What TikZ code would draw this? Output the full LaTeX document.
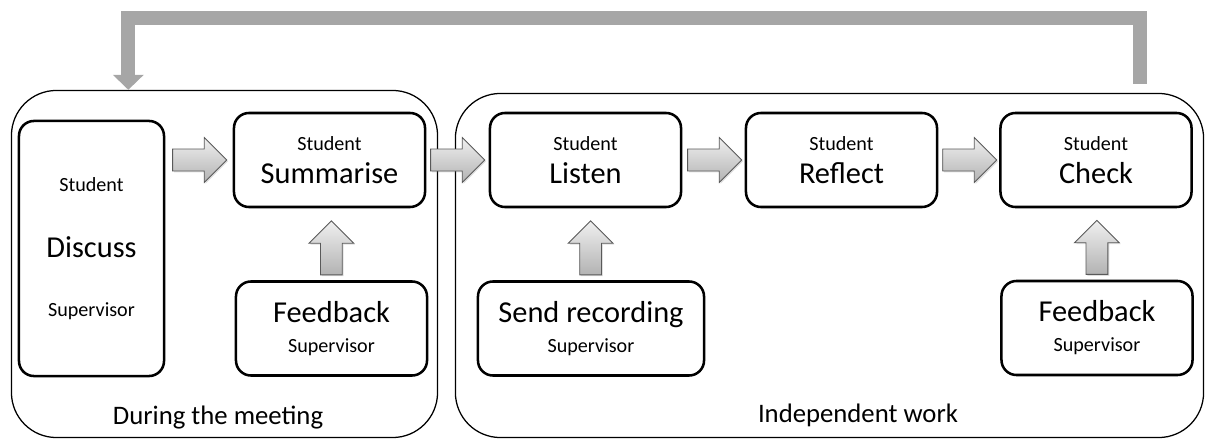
\documentclass[tikz,border=0pt]{standalone}
\usepackage{fontspec}
\setmainfont{Carlito}
\usetikzlibrary{calc,arrows.meta,shapes.arrows,shadows}
\def\who#1{\fontsize{14.3}{17}\selectfont #1}
\def\act#1{\fontsize{21.6}{25}\selectfont #1}
\def\boss{\fontsize{14.3}{17}\selectfont Supervisor}

\begin{document}
\begin{tikzpicture}[x=0.025cm, y=-0.025cm,
	stage/.style={draw, line width=0.9pt, rounded corners=1.125cm, inner sep=0pt},
	task/.style={draw, line width=1.8pt, rounded corners=0.375cm, inner sep=0pt, align=center,
		font=\fontsize{14}{30}\selectfont, minimum width=4.775cm, minimum height=2.35cm},
	blockarrow/.style={single arrow, draw=black!65, line width=0.6pt, inner xsep=0pt, inner ysep=0.2625cm,
		minimum height=1.35cm, single arrow head extend=0.2875cm, anchor=tail,
		top color=black!6, bottom color=black!30,
		drop shadow={shadow xshift=1pt, shadow yshift=-1pt, opacity=0.25}},
	loopback/.style={line width=0.35cm, draw=black!35, -{Triangle[width=0.75cm, length=0.375cm]}}]
	%%%%% START %%%%%
	\useasboundingbox (0,0) rectangle (1206,439);
	
	\node[stage, minimum width=10.65cm, minimum height=8.675cm] (meet) at (224.5, 264) {};
	\node[stage, minimum width=18.7cm, minimum height=8.6cm] (indep) at (829.5, 265.5) {};
	\node[anchor=base, font=\fontsize{19}{22}\selectfont] (meetlabel) at (218, 425) {During the meeting};
	\node[anchor=base, font=\fontsize{19}{22}\selectfont] (indeplabel) at (858, 422) {Independent work};
	
	\node[task, minimum width=3.625cm, minimum height=6.375cm] (discuss) at (91.5, 248.5)
		{\who{Student}\\[17pt]\act{Discuss}\\[12pt]\boss};
	\node[task] (summarise) at (329.5, 160) {\who{Student}\\[-6.5pt]\act{Summarise}};
	\node[task] (feedback) at (331.5, 328.5) {\act{Feedback}\\[-8.7pt]\boss};
	
	\node[task] (listen) at (585.5, 160) {\who{Student}\\[-6.5pt]\act{Listen}};
	\node[task] (reflect) at (841.5, 160) {\who{Student}\\[-6.5pt]\act{Reflect}};
	\node[task] (check) at (1096, 160) {\who{Student}\\[-6.5pt]\act{Check}};
	\node[task, minimum width=5.65cm] (recording) at (591, 328.5) {\act{Send recording}\\[-8.7pt]\boss};
	\node[task] (feedbacktwo) at (1097, 328) {\act{Feedback}\\[-8.7pt]\boss};
	
	\path (discuss.east |- summarise.west) -- node[blockarrow, pos=.103] {} (summarise.west);
	\path (summarise.east) -- node[blockarrow, pos=.063] {} (listen.west);
	\path (listen.east) -- node[blockarrow, pos=.079] {} (reflect.west);
	\path (reflect.east) -- node[blockarrow, pos=.065] {} (check.west);
	
	\path (feedback.north) -- node[blockarrow, rotate=90, pos=.069] {} (summarise.south);
	\path (recording.north) -- node[blockarrow, rotate=90, pos=.069] {} (listen.south);
	\path (feedbacktwo.north) -- node[blockarrow, rotate=90, pos=.069] {} (check.south);
	
	\draw[loopback] ($(indep.north east)+(-64.5,-9)$) -- ++(0,-65.5) -| ($(meet.north west)+(117.5,0)$);
	%%%%% END %%%%%
\end{tikzpicture}
\end{document}
